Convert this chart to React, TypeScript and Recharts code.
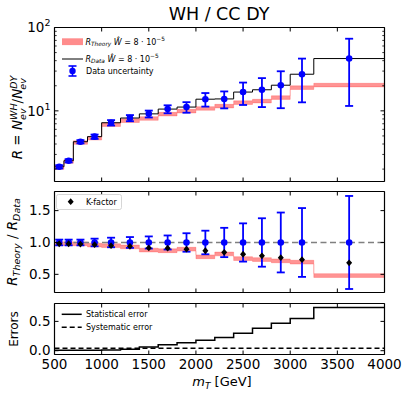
import React from 'react';
import {
  ComposedChart,
  Line,
  Area,
  Scatter,
  XAxis,
  YAxis,
  ErrorBar,
  ReferenceLine,
} from 'recharts';

// m_T bins [GeV]
const binEdges = [500, 600, 700, 850, 1000, 1200, 1400, 1600, 1800, 2000, 2200, 2400, 2600, 2800, 3000, 3250, 4000];
const binCenters = [550, 650, 775, 925, 1100, 1300, 1500, 1700, 1900, 2100, 2300, 2500, 2700, 2900, 3125, 3625];

const xTicks = [500, 1000, 1500, 2000, 2500, 3000, 3500, 4000];
const logTicks = [2, 3, 4, 5, 6, 7, 8, 9, 10, 20, 30, 40, 50, 60, 70, 80, 90, 100];
const ratioTicks = [0.5, 1.0, 1.5];
const errTicks = [0.0, 0.5];

// R = N_WH / N_DY per bin
const rData = [2.13, 2.52, 4.26, 4.9, 7.2, 8.2, 9.2, 10.5, 11.1, 13.8, 13.9, 16.8, 17.9, 20.3, 27.5, 42.4];
const rTheory = [2.09, 2.47, 4.17, 4.7, 6.84, 7.63, 8.1, 9.14, 9.93, 10.7, 11.4, 12.55, 13.1, 14.45, 19.0, 20.4];
const theoryBandRel = 0.05;
const ratioBandHalf = 0.03;

// relative data uncertainty (error bars)
const dataRelErr = [0.045, 0.045, 0.045, 0.06, 0.075, 0.085, 0.095, 0.11, 0.145, 0.185, 0.23, 0.3, 0.38, 0.47, 0.54, 0.73];
const kFactor = [0.98, 0.98, 0.975, 0.965, 0.95, 0.94, 0.915, 0.91, 0.895, 0.87, 0.845, 0.815, 0.79, 0.762, 0.73, 0.68];

// bottom panel
const statErr = [0.008, 0.008, 0.008, 0.008, 0.01, 0.025, 0.065, 0.1, 0.134, 0.18, 0.225, 0.297, 0.383, 0.469, 0.548, 0.738];
const sysErr = [0.04, 0.04, 0.04, 0.04, 0.04, 0.04, 0.04, 0.04, 0.04, 0.04, 0.04, 0.04, 0.04, 0.04, 0.04, 0.04];

const FONT = '"DejaVu Sans", sans-serif';
const BLUE = '#0000ff';
const TICK_FS = 13.5;

// step rows on bin edges (last value repeated at the right edge)
const stepRows = (vals: number[]) =>
  binEdges.map((x, i) => ({ x, v: vals[Math.min(i, vals.length - 1)] }));

const topBand = binEdges.map((x, i) => {
  const t = rTheory[Math.min(i, rTheory.length - 1)];
  return { x, band: [t * (1 - theoryBandRel), t * (1 + theoryBandRel)] };
});
const ratioBand = binEdges.map((x, i) => {
  const j = Math.min(i, rTheory.length - 1);
  const r = rTheory[j] / rData[j];
  return { x, band: [r - ratioBandHalf, r + ratioBandHalf] };
});
const topPoints = binCenters.map((x, i) => ({ x, y: rData[i], err: rData[i] * dataRelErr[i] }));
const ratioPoints = binCenters.map((x, i) => ({ x, y: 1, err: dataRelErr[i] }));
const kPoints = binCenters.map((x, i) => ({ x, y: kFactor[i] }));

function XTick(props: any) {
  const { x, y, payload, side, label } = props;
  const dir = side === 'top' ? 1 : -1;
  return (
    <g>
      <line x1={x} x2={x} y1={y} y2={y + dir * 4} stroke="#000" strokeWidth={1} />
      {label && (
        <text x={x} y={y + 14.8} textAnchor="middle" fontSize={TICK_FS} fill="#000" fontFamily={FONT}>
          {payload.value}
        </text>
      )}
    </g>
  );
}

function YTick(props: any) {
  const { x, y, payload, side, kind } = props;
  const v = payload.value;
  const dir = side === 'left' ? 1 : -1;
  const major = kind !== 'log' || v === 10 || v === 100;
  const len = major ? 4 : 2.2;
  let text: React.ReactNode = null;
  if (side === 'left' && major) {
    text =
      kind === 'log' ? (
        <text x={x - 4} y={y + 4.8} textAnchor="end" fontSize={TICK_FS} fill="#000" fontFamily={FONT}>
          10
          <tspan fontSize={9.5} dy={-6}>
            {v === 10 ? '1' : '2'}
          </tspan>
        </text>
      ) : (
        <text x={x - 4} y={y + 4.8} textAnchor="end" fontSize={TICK_FS} fill="#000" fontFamily={FONT}>
          {v.toFixed(1)}
        </text>
      );
  }
  return (
    <g>
      <line x1={x} x2={x + dir * len} y1={y} y2={y} stroke="#000" strokeWidth={major ? 1 : 0.8} />
      {text}
    </g>
  );
}

const axisLine = { stroke: '#000', strokeWidth: 1.2 };

// axes need a size of at least 1px or Recharts skips them; margins below account for it
function frameAxes(
  domain: [number, number],
  yTicks: number[],
  kind: 'log' | 'lin',
  showX: boolean
) {
  const common = { tickSize: 0, tickMargin: 0, tickLine: false, axisLine, interval: 0 as const };
  return [
    <XAxis
      key="xb"
      xAxisId="b"
      dataKey="x"
      type="number"
      domain={[500, 4000]}
      ticks={xTicks}
      allowDataOverflow
      height={1}
      {...common}
      tick={(p: any) => <XTick {...p} side="bottom" label={showX} />}
    />,
    <XAxis
      key="xt"
      xAxisId="t"
      orientation="top"
      dataKey="x"
      type="number"
      domain={[500, 4000]}
      ticks={xTicks}
      allowDataOverflow
      height={1}
      {...common}
      tick={(p: any) => <XTick {...p} side="top" />}
    />,
    <YAxis
      key="yl"
      yAxisId="l"
      type="number"
      scale={kind === 'log' ? 'log' : 'linear'}
      domain={domain}
      ticks={yTicks}
      allowDataOverflow
      width={1}
      {...common}
      tick={(p: any) => <YTick {...p} side="left" kind={kind} />}
    />,
    <YAxis
      key="yr"
      yAxisId="r"
      orientation="right"
      type="number"
      scale={kind === 'log' ? 'log' : 'linear'}
      domain={domain}
      ticks={yTicks}
      allowDataOverflow
      width={1}
      {...common}
      tick={(p: any) => <YTick {...p} side="right" kind={kind} />}
    />,
  ];
}

const blueDot = (p: any) => <circle cx={p.cx} cy={p.cy} r={3.3} fill={BLUE} />;
const blackDiamond = (p: any) => (
  <polygon
    points={`${p.cx},${p.cy - 3.4} ${p.cx + 3},${p.cy} ${p.cx},${p.cy + 3.4} ${p.cx - 3},${p.cy}`}
    fill="#000"
  />
);

function Overlay() {
  return (
    <svg
      width={407}
      height={395}
      style={{ position: 'absolute', left: 0, top: 0, pointerEvents: 'none' }}
      fontFamily={FONT}
    >
      <text x={219} y={20} textAnchor="middle" fontSize={17.5} fill="#000">
        WH / CC DY
      </text>

      {/* y labels */}
      <text transform="translate(22,118) rotate(-90)" textAnchor="middle" fontSize={13.5} fill="#000">
        <tspan fontStyle="italic">R</tspan>
        <tspan> = </tspan>
        <tspan fontStyle="italic">N</tspan>
        <tspan fontStyle="italic" fontSize={9.5} dy={-5.5}>WH</tspan>
        <tspan fontStyle="italic" fontSize={9.5} dx={-16.5} dy={9}>ev</tspan>
        <tspan dx={5} dy={-3.5}>/</tspan>
        <tspan fontStyle="italic">N</tspan>
        <tspan fontStyle="italic" fontSize={9.5} dy={-5.5}>DY</tspan>
        <tspan fontStyle="italic" fontSize={9.5} dx={-13} dy={9}>ev</tspan>
      </text>
      <text transform="translate(17,242) rotate(-90)" textAnchor="middle" fontSize={13.5} fill="#000">
        <tspan fontStyle="italic">R</tspan>
        <tspan fontStyle="italic" fontSize={9.5} dy={2.5}>Theory</tspan>
        <tspan dy={-2.5}> / </tspan>
        <tspan fontStyle="italic">R</tspan>
        <tspan fontStyle="italic" fontSize={9.5} dy={2.5}>Data</tspan>
      </text>
      <text transform="translate(18,329) rotate(-90)" textAnchor="middle" fontSize={12} fill="#000">
        Errors
      </text>

      {/* x label */}
      <text x={222} y={386} textAnchor="middle" fontSize={13} fill="#000">
        <tspan fontStyle="italic">m</tspan>
        <tspan fontStyle="italic" fontSize={9} dy={2.5}>T</tspan>
        <tspan dy={-2.5}> [GeV]</tspan>
      </text>

      {/* top legend */}
      <rect x={62} y={38.3} width={21} height={6.8} fill="#ff0000" fillOpacity={0.45} />
      <text x={85.5} y={44.5} fontSize={8} fill="#000">
        <tspan fontStyle="italic">R</tspan>
        <tspan fontStyle="italic" fontSize={5.8} dy={1.8}>Theory</tspan>
        <tspan fontStyle="italic" dy={-1.8}> Ŵ</tspan>
        <tspan> = 8 · 10</tspan>
        <tspan fontSize={5.8} dy={-3.5}>−5</tspan>
      </text>
      <line x1={62} x2={83} y1={59} y2={59} stroke="#000" strokeWidth={1} />
      <text x={85.5} y={61.5} fontSize={8} fill="#000">
        <tspan fontStyle="italic">R</tspan>
        <tspan fontStyle="italic" fontSize={5.8} dy={1.8}>Data</tspan>
        <tspan fontStyle="italic" dy={-1.8}> Ŵ</tspan>
        <tspan> = 8 · 10</tspan>
        <tspan fontSize={5.8} dy={-3.5}>−5</tspan>
      </text>
      <g stroke={BLUE} strokeWidth={1.6}>
        <line x1={72.5} x2={72.5} y1={66} y2={76} />
        <line x1={68.5} x2={76.5} y1={66} y2={66} />
        <line x1={68.5} x2={76.5} y1={76} y2={76} />
      </g>
      <circle cx={72.5} cy={71} r={3.2} fill={BLUE} />
      <text x={86} y={74} fontSize={8} fill="#000">
        Data uncertainty
      </text>

      {/* middle legend */}
      <rect x={56.5} y={194.5} width={65} height={15} rx={2} fill="#fff" stroke="#cccccc" strokeWidth={0.8} />
      <polygon points="70.7,198.3 73.7,201.7 70.7,205.1 67.7,201.7" fill="#000" />
      <text x={86} y={204.5} fontSize={8} fill="#000">
        K-factor
      </text>

      {/* bottom legend */}
      <line x1={61.7} x2={81.7} y1={314.3} y2={314.3} stroke="#000" strokeWidth={1.5} />
      <text x={86} y={317.2} fontSize={8} fill="#000">
        Statistical error
      </text>
      <line x1={61.7} x2={81.7} y1={327.3} y2={327.3} stroke="#000" strokeWidth={1.5} strokeDasharray="5 3" />
      <text x={86} y={330.2} fontSize={8} fill="#000">
        Systematic error
      </text>
    </svg>
  );
}

export default function App() {
  const s = { xAxisId: 'b', yAxisId: 'l', isAnimationActive: false };
  return (
    <div
      style={{
        position: 'absolute',
        left: 0,
        top: 0,
        width: 407,
        height: 395,
        background: '#fff',
        fontFamily: FONT,
      }}
    >
      <div style={{ position: 'absolute', left: 0, top: 0 }}>
        <ComposedChart width={407} height={186} margin={{ top: 26.5, right: 21.5, bottom: 3.5, left: 53.5 }}>
          {frameAxes([1.42, 100], logTicks, 'log', false)}
          <Area data={topBand} dataKey="band" type="stepAfter" fill="#ff0000" fillOpacity={0.42} stroke="#ff0000" strokeOpacity={0.2} strokeWidth={1} {...s} />
          <Line data={stepRows(rData)} dataKey="v" type="stepAfter" stroke="#000" strokeWidth={1} dot={false} activeDot={false} {...s} />
          <Scatter data={topPoints} dataKey="y" shape={blueDot} {...s}>
            <ErrorBar dataKey="err" direction="y" width={4} stroke={BLUE} strokeWidth={1.8} isAnimationActive={false} />
          </Scatter>
        </ComposedChart>
      </div>
      <div style={{ position: 'absolute', left: 0, top: 186 }}>
        <ComposedChart width={407} height={111} margin={{ top: 4.5, right: 21.5, bottom: 3.5, left: 53.5 }}>
          {frameAxes([0.215, 1.8], ratioTicks, 'lin', false)}
          <Area data={ratioBand} dataKey="band" type="stepAfter" fill="#ff0000" fillOpacity={0.42} stroke="#ff0000" strokeOpacity={0.2} strokeWidth={1} {...s} />
          <ReferenceLine y={1} xAxisId="b" yAxisId="l" stroke="#808080" strokeWidth={1.5} strokeDasharray="6 3.5" />
          <Scatter data={ratioPoints} dataKey="y" shape={blueDot} {...s}>
            <ErrorBar dataKey="err" direction="y" width={4} stroke={BLUE} strokeWidth={1.8} isAnimationActive={false} />
          </Scatter>
          <Scatter data={kPoints} dataKey="y" shape={blackDiamond} {...s} />
        </ComposedChart>
      </div>
      <div style={{ position: 'absolute', left: 0, top: 297 }}>
        <ComposedChart width={407} height={98} margin={{ top: 5.5, right: 21.5, bottom: 39.5, left: 53.5 }}>
          {frameAxes([-0.065, 0.805], errTicks, 'lin', true)}
          <Line data={stepRows(sysErr)} dataKey="v" type="stepAfter" stroke="#000" strokeWidth={1.5} strokeDasharray="5 3" dot={false} activeDot={false} {...s} />
          <Line data={stepRows(statErr)} dataKey="v" type="stepAfter" stroke="#000" strokeWidth={1.5} dot={false} activeDot={false} {...s} />
        </ComposedChart>
      </div>
      <Overlay />
    </div>
  );
}
